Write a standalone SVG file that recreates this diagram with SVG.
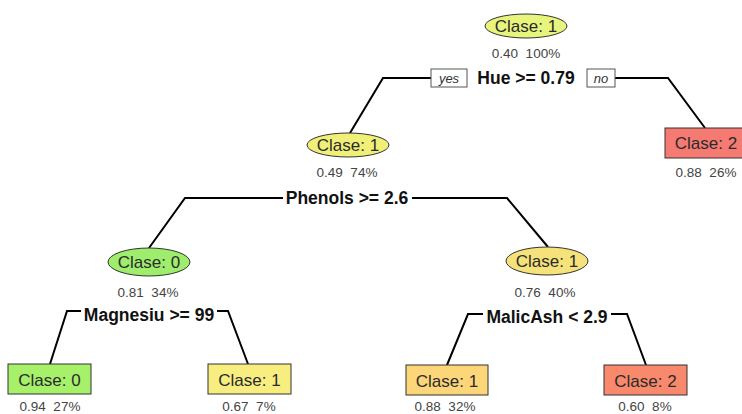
<svg xmlns="http://www.w3.org/2000/svg" width="742" height="414" viewBox="0 0 742 414">
  <style>
    .node { stroke: #333; stroke-width: 1; }
    .cls { font-family: "Liberation Sans", Arial, sans-serif; font-size: 17px; fill: #2b2b2b; text-anchor: middle; }
    .stat { font-family: "Liberation Sans", Arial, sans-serif; font-size: 13.5px; fill: #444; text-anchor: middle; white-space: pre; }
    .split { font-family: "Liberation Sans", Arial, sans-serif; font-size: 17.5px; font-weight: bold; fill: #111; text-anchor: middle; }
    .tag { fill: #fff; stroke: #555; stroke-width: 1; }
    .tagtxt { font-family: "Liberation Sans", Arial, sans-serif; font-size: 13px; font-style: italic; fill: #333; text-anchor: middle; }
    .edge { fill: none; stroke: #000; stroke-width: 2; }
  </style>

  <!-- branches -->
  <g id="connectors">
    <path class="edge" d="M431 78 H383 L350 133"/>
    <path class="edge" d="M615 78 H668 L705 128"/>
    <path class="edge" d="M283 198 H185 L149 248"/>
    <path class="edge" d="M412 198 H507 L548 247"/>
    <path class="edge" d="M81 311 H67 L50 364"/>
    <path class="edge" d="M217 311 H228 L248 364"/>
    <path class="edge" d="M483 314 H468 L447 365"/>
    <path class="edge" d="M611 314 H627 L646 365"/>
  </g>

  <!-- root split -->
  <g id="root">
    <ellipse class="node" cx="526" cy="26" rx="41" ry="12" fill="#e8f57c"/>
    <text class="cls" x="526" y="32">Clase: 1</text>
    <text class="stat" x="526" y="58">0.40  100%</text>
    <rect class="tag" x="431" y="69" width="36" height="18"/>
    <text class="tagtxt" x="449" y="83">yes</text>
    <text class="split" x="526" y="84">Hue &gt;= 0.79</text>
    <rect class="tag" x="587" y="69" width="28" height="18"/>
    <text class="tagtxt" x="601" y="83">no</text>
  </g>

  <g id="node2">
    <ellipse class="node" cx="348" cy="145" rx="41" ry="12" fill="#f0f078"/>
    <text class="cls" x="348" y="151">Clase: 1</text>
    <text class="stat" x="347" y="177">0.49  74%</text>
    <text class="split" x="347" y="204">Phenols &gt;= 2.6</text>
  </g>

  <g id="node3">
    <rect class="node" x="665" y="128" width="84" height="30" fill="#f57a72"/>
    <text class="cls" x="706" y="149">Clase: 2</text>
    <text class="stat" x="706" y="177">0.88  26%</text>
  </g>

  <g id="node4">
    <ellipse class="node" cx="149" cy="262" rx="41" ry="14" fill="#9eed6c"/>
    <text class="cls" x="149" y="268">Clase: 0</text>
    <text class="stat" x="148" y="297">0.81  34%</text>
    <text class="split" x="149" y="321">Magnesiu &gt;= 99</text>
  </g>

  <g id="node5">
    <ellipse class="node" cx="547" cy="261" rx="41" ry="14" fill="#f6e27a"/>
    <text class="cls" x="547" y="267">Clase: 1</text>
    <text class="stat" x="545" y="297">0.76  40%</text>
    <text class="split" x="547" y="323">MalicAsh &lt; 2.9</text>
  </g>

  <g id="leaf8">
    <rect class="node" x="8" y="364" width="83" height="30" fill="#a6f06a"/>
    <text class="cls" x="49.5" y="386">Clase: 0</text>
    <text class="stat" x="50" y="411">0.94  27%</text>
  </g>

  <g id="leaf9">
    <rect class="node" x="208" y="364" width="83" height="30" fill="#f8ee80"/>
    <text class="cls" x="249.5" y="386">Clase: 1</text>
    <text class="stat" x="249" y="411">0.67  7%</text>
  </g>

  <g id="leaf10">
    <rect class="node" x="406" y="365" width="82" height="30" fill="#fcd679"/>
    <text class="cls" x="447" y="387">Clase: 1</text>
    <text class="stat" x="445" y="411">0.88  32%</text>
  </g>

  <g id="leaf11">
    <rect class="node" x="604" y="365" width="83" height="30" fill="#f8896c"/>
    <text class="cls" x="645.5" y="387">Clase: 2</text>
    <text class="stat" x="645" y="411">0.60  8%</text>
  </g>
</svg>
